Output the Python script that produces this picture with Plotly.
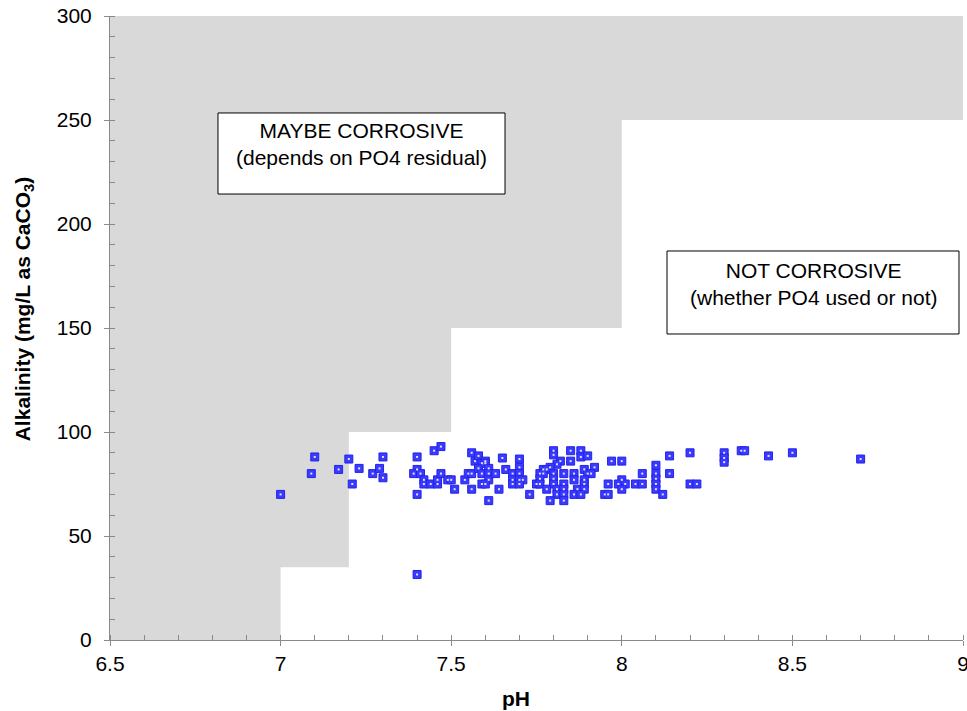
import plotly.graph_objects as go

# White "not corrosive" boundary (step: upper alkalinity limit from each pH)
step_ph = [7.0, 7.2, 7.5, 8.0, 9.0]
step_alk = [35, 100, 150, 250, 250]

# Sample points
ph = [7.00, 7.09, 7.10, 7.17, 7.20, 7.21, 7.23, 7.27, 7.29, 7.30, 7.30,
      7.40, 7.40, 7.39, 7.41, 7.42, 7.42, 7.44, 7.46, 7.46, 7.47, 7.40, 7.40,
      7.45, 7.47, 7.49, 7.50, 7.51,
      7.54, 7.55, 7.56, 7.56, 7.56, 7.57, 7.58, 7.59, 7.58, 7.59, 7.60, 7.60, 7.61, 7.61, 7.61, 7.59, 7.60, 7.63, 7.64, 7.61,
      7.65, 7.66, 7.70, 7.70, 7.68, 7.70, 7.68, 7.70, 7.71, 7.68, 7.70, 7.73,
      7.80, 7.80, 7.85, 7.88, 7.88, 7.90, 7.82, 7.85, 7.81, 7.79, 7.77, 7.78, 7.76, 7.77, 7.80, 7.83, 7.86, 7.89, 7.92, 7.90, 7.91,
      7.76, 7.80, 7.86, 7.89, 7.75, 7.76, 7.80, 7.83, 7.89, 7.78, 7.81, 7.83, 7.87, 7.89, 7.86, 7.88, 7.81, 7.83, 7.79, 7.83,
      7.97, 8.00, 8.00, 7.96, 7.99, 8.01, 8.00, 7.95, 7.96, 8.04, 8.06, 8.06,
      8.14, 8.20, 8.30, 8.30, 8.30, 8.35, 8.36, 8.10, 8.10, 8.10, 8.10, 8.10, 8.14, 8.12, 8.20, 8.22,
      8.43, 8.50, 8.70]
alk = [70, 80, 88, 82, 87, 75, 82.5, 80, 82.5, 88, 78,
       88, 82, 80, 80, 77, 75, 75, 75, 77, 80, 70, 31.5,
       91, 93, 77, 77, 72.5,
       77, 80, 80, 90, 72.5, 86, 88.5, 85, 82.5, 80, 86, 85, 82.5, 80, 77, 75, 75, 80, 72.5, 67,
       87.5, 82, 87, 83, 80, 80, 77, 77, 77, 75, 75, 70,
       91, 89, 91, 91, 88, 88.5, 86, 86, 84.5, 83, 82, 82, 80, 80, 80, 80, 80, 82, 83, 80, 80,
       77.5, 77.5, 77, 77, 75, 75, 75, 75, 75, 72.5, 72.5, 72.5, 72.5, 72.5, 70, 70, 70, 70, 67, 67,
       86, 86, 77, 75, 75, 75, 72.5, 70, 70, 75, 75, 80,
       88.5, 90, 90, 87.5, 85.5, 91, 91, 84, 80, 77.5, 75, 72.5, 80, 70, 75, 75,
       88.5, 90, 87]

x_ticks = [6.5, 7, 7.5, 8, 8.5, 9]
y_ticks = [0, 50, 100, 150, 200, 250, 300]

FONT = "Liberation Sans, Arial, sans-serif"
AXIS_COL = "#8a8a8a"

fig = go.Figure()
fig.add_trace(go.Scatter(x=step_ph, y=step_alk, mode="lines", line=dict(shape="hv", width=0),
                         fill="tozeroy", fillcolor="white", hoverinfo="skip", showlegend=False))
fig.add_trace(go.Scatter(x=ph, y=alk, mode="markers", showlegend=False,
                         marker=dict(symbol="square", size=8, color="#3a3aff",
                                     line=dict(width=1, color="#2424e6"))))
fig.add_trace(go.Scatter(x=ph, y=alk, mode="markers", showlegend=False, hoverinfo="skip",
                         marker=dict(symbol="square", size=2, color="rgba(235,235,255,0.95)",
                                     line=dict(width=0))))

fig.update_layout(
    width=967, height=711,
    margin=dict(l=110, r=4, t=16, b=71),
    paper_bgcolor="white", plot_bgcolor="#d9d9d9",
    font=dict(family=FONT, color="black"),
    xaxis=dict(range=[6.5, 9], tickvals=x_ticks, ticktext=[f"{v:g}" for v in x_ticks],
               ticks="outside", ticklen=5, tickcolor=AXIS_COL, showline=True, linecolor=AXIS_COL,
               linewidth=1, showgrid=False, zeroline=False, tickfont=dict(size=21),
               ticklabeloverflow="allow", automargin=False,
               minor=dict(dtick=0.1, ticks="inside", ticklen=5, tickcolor=AXIS_COL, showgrid=False)),
    yaxis=dict(range=[0, 300], tickvals=y_ticks, ticks="outside", ticklen=5, tickcolor=AXIS_COL,
               showline=True, linecolor=AXIS_COL, linewidth=1, showgrid=False, zeroline=False,
               tickfont=dict(size=21), ticklabelstandoff=8, ticklabeloverflow="allow", automargin=False,
               minor=dict(dtick=10, ticks="inside", ticklen=5, tickcolor=AXIS_COL, showgrid=False)),
    shapes=[
        dict(type="rect", xref="paper", yref="paper", x0=0.1266, x1=0.4631, y0=0.7147, y1=0.8446,
             line=dict(color="black", width=1), fillcolor="white", layer="above"),
        dict(type="rect", xref="paper", yref="paper", x0=0.653, x1=0.9953, y0=0.4904, y1=0.6234,
             line=dict(color="black", width=1), fillcolor="white", layer="above"),
    ],
    annotations=[
        dict(xref="paper", yref="paper", x=0.2948, y=0.7941, xanchor="center", yanchor="middle",
             text="MAYBE CORROSIVE<br>(depends on PO4 residual)", showarrow=False, align="center",
             font=dict(size=21, color="black")),
        dict(xref="paper", yref="paper", x=0.8242, y=0.5705, xanchor="center", yanchor="middle",
             text="NOT CORROSIVE<br>(whether PO4 used or not)", showarrow=False, align="center",
             font=dict(size=21, color="black")),
        dict(xref="paper", yref="paper", x=0.476, y=-0.093, xanchor="center", yanchor="middle",
             text="<b>pH</b>", showarrow=False, font=dict(size=21, color="black")),
        dict(xref="paper", yref="paper", x=-0.1008, y=0.53, xanchor="center", yanchor="middle",
             textangle=-90, text="<b>Alkalinity (mg/L as CaCO<sub>3</sub>)</b>", showarrow=False,
             font=dict(size=21, color="black")),
    ],
)

fig.write_html("out.html")
